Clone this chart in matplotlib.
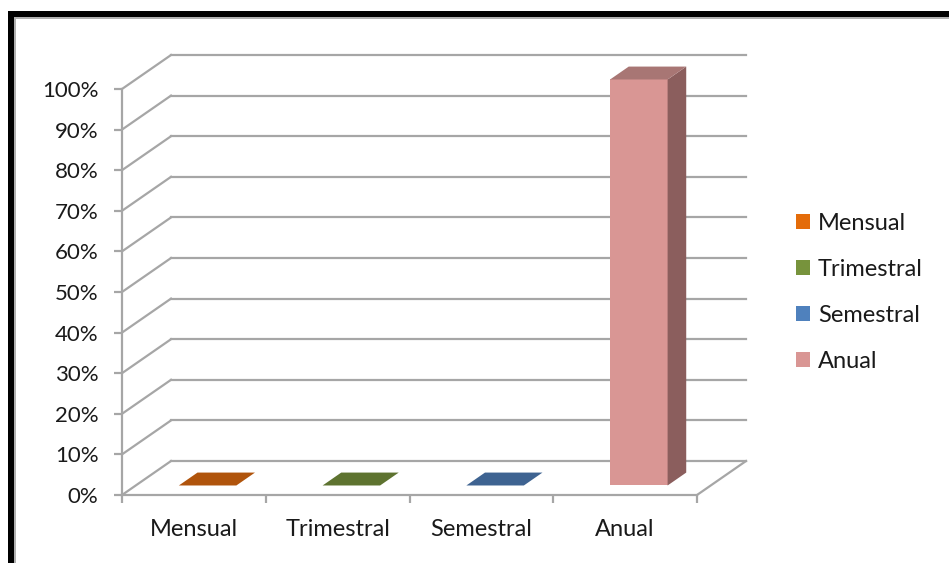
import matplotlib
matplotlib.use("Agg")
import matplotlib.pyplot as plt
from matplotlib.patches import Polygon, Rectangle, Patch
from matplotlib.ticker import PercentFormatter

plt.rcParams["font.family"] = ["Lato", "DejaVu Sans"]

CATEGORIES = ["Mensual", "Trimestral", "Semestral", "Anual"]
VALUES = [0.0, 0.0, 0.0, 1.0]
Y_TICKS = [0.0, 0.1, 0.2, 0.3, 0.4, 0.5, 0.6, 0.7, 0.8, 0.9, 1.0]

FRONT = ["#E46C0A", "#77933C", "#4F81BD", "#D99694"]
TOP = ["#B0540C", "#5E7330", "#3E6391", "#A87674"]
SIDE = ["#8A420A", "#4A5B26", "#314E73", "#8B5E5D"]
GRID = "#A6A6A6"

# oblique depth of the 3D box, in data units
DX, DY = 0.341, 0.0837
D0, D1 = 0.28, 0.66
HALF = 0.2

fig = plt.figure(figsize=(9.49, 5.63), dpi=100)
ax = fig.add_axes([122 / 949, 68 / 563, 575 / 949, 406 / 563])
ax.set_xlim(0, len(CATEGORIES))
ax.set_ylim(0, 1)

# walls: depth lines on the side and horizontal lines on the back
for v in Y_TICKS:
    ax.plot([0, DX], [v, v + DY], color=GRID, lw=1.6, clip_on=False, zorder=1)
    ax.plot([DX, len(CATEGORIES) + DX], [v + DY, v + DY], color=GRID, lw=1.6,
            clip_on=False, zorder=1)
n = len(CATEGORIES)
ax.plot([n, n + DX], [0, DY], color=GRID, lw=1.6, clip_on=False, zorder=1)

for i, v in enumerate(VALUES):
    c = i + 0.5
    xl0, xr0 = c - HALF + D0 * DX, c + HALF + D0 * DX
    xl1, xr1 = c - HALF + D1 * DX, c + HALF + D1 * DX
    y0, y1 = D0 * DY, D1 * DY
    if v > 0:
        ax.add_patch(Polygon([(xl0, y0), (xr0, y0), (xr0, v + y0), (xl0, v + y0)],
                             closed=True, fc=FRONT[i], ec="none", zorder=3, clip_on=False))
        ax.add_patch(Polygon([(xr0, y0), (xr1, y1), (xr1, v + y1), (xr0, v + y0)],
                             closed=True, fc=SIDE[i], ec="none", zorder=3, clip_on=False))
    ax.add_patch(Polygon([(xl0, v + y0), (xr0, v + y0), (xr1, v + y1), (xl1, v + y1)],
                         closed=True, fc=TOP[i], ec="none", zorder=3, clip_on=False))

for s in ["top", "right"]:
    ax.spines[s].set_visible(False)
for s in ["left", "bottom"]:
    ax.spines[s].set_color(GRID)
    ax.spines[s].set_linewidth(1.6)
ax.set_facecolor("none")

ax.set_yticks(Y_TICKS)
ax.yaxis.set_major_formatter(PercentFormatter(1.0, decimals=0))
ax.tick_params(axis="y", length=6, width=1.6, color=GRID, pad=11,
               labelsize=16, labelcolor="#1a1a1a")

ax.set_xticks(range(n + 1))
ax.set_xticklabels([])
ax.set_xticks([i + 0.5 for i in range(n)], minor=True)
ax.set_xticklabels(CATEGORIES, minor=True)
ax.tick_params(axis="x", which="major", length=6, width=1.6, color=GRID)
ax.tick_params(axis="x", which="minor", length=0, pad=17, labelsize=17,
               labelcolor="#1a1a1a")

handles = [Patch(fc=FRONT[i], ec="none", label=CATEGORIES[i]) for i in range(n)]
fig.legend(handles=handles, loc="center left", bbox_to_anchor=(796 / 949, 0.481),
           frameon=False, fontsize=17, handlelength=0.58, handleheight=0.58,
           handletextpad=0.35, labelspacing=1.06, borderpad=0, borderaxespad=0,
           labelcolor="#1a1a1a")

# black outer frame with a thin grey inner edge
fig.add_artist(Rectangle((8 / 949, 0), 6 / 949, 1 - 11 / 563, transform=fig.transFigure,
                         fc="black", ec="none"))
fig.add_artist(Rectangle((8 / 949, 1 - 17 / 563), 1, 6 / 563, transform=fig.transFigure,
                         fc="black", ec="none"))
fig.add_artist(Rectangle((14 / 949, 1 - 18.5 / 563), 1, 1.5 / 563, transform=fig.transFigure,
                         fc="#B0B0B0", ec="none"))
fig.add_artist(Rectangle((14 / 949, 0), 1.5 / 949, 1 - 17 / 563, transform=fig.transFigure,
                         fc="#B0B0B0", ec="none"))

fig.savefig("out.png", dpi=100, facecolor="white")
